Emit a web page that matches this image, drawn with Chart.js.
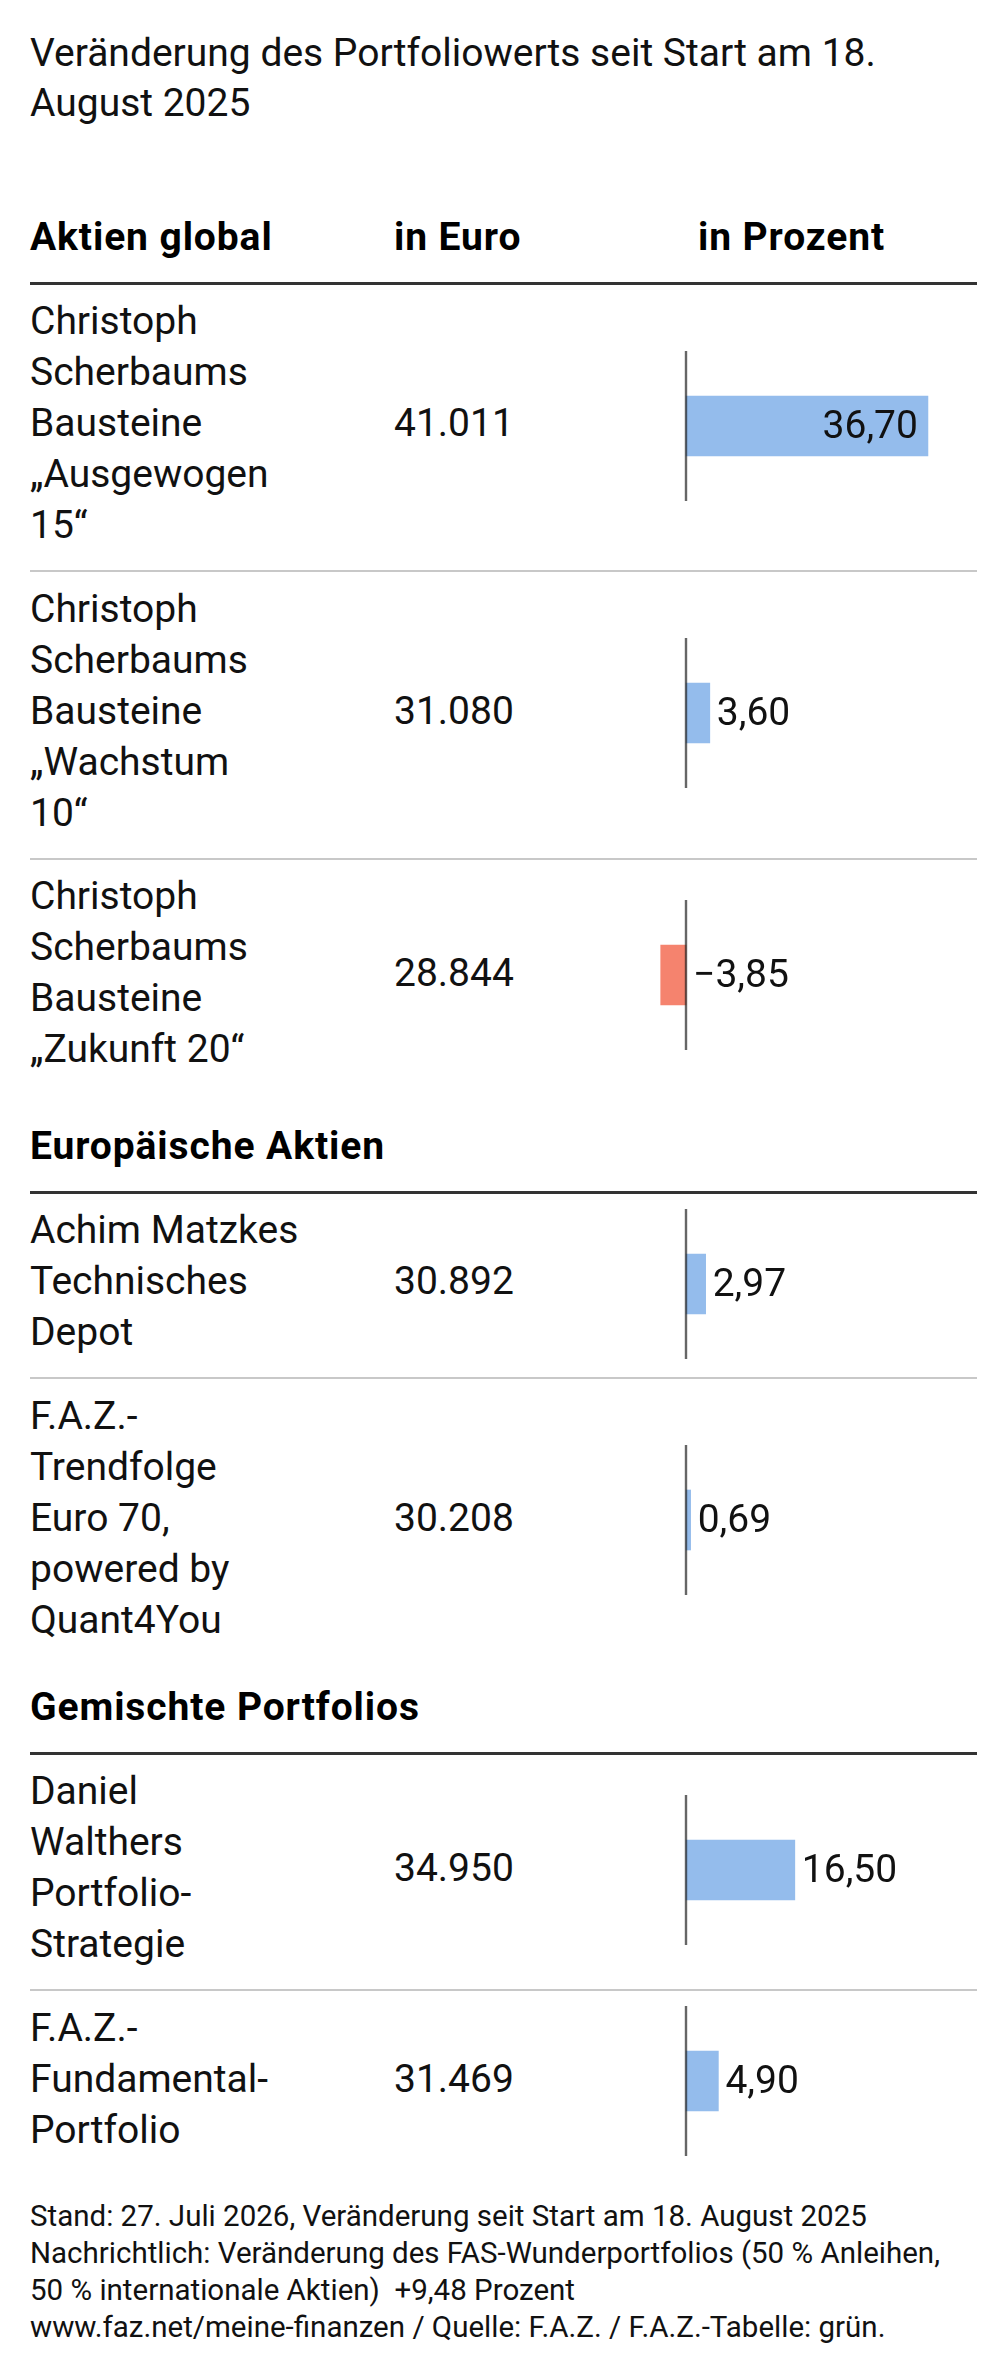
<!DOCTYPE html>
<html lang="de">
<head>
<meta charset="utf-8">
<script src="https://cdn.jsdelivr.net/npm/chart.js@4.4.1/dist/chart.umd.min.js"></script>
<style>
  html,body{margin:0;padding:0;background:#fff;}
  body{width:1005px;height:2379px;font-family:Roboto,"Noto Sans",sans-serif;color:#111;overflow:hidden;}
  #wrap{margin-left:30px;width:947px;}
  .title{font-size:39px;line-height:50px;padding-top:28.4px;white-space:nowrap;}
  .head{display:flex;font-weight:700;font-size:39px;line-height:51px;padding-bottom:19px;border-bottom:3px solid #333;color:#000;white-space:nowrap;letter-spacing:0.9px;}
  .row{display:flex;align-items:center;font-size:39px;line-height:51px;padding:11.5px 0 19px 0;border-bottom:2px solid #c8c8c8;}
  .row.last{border-bottom:none;}
  .lab{width:364px;flex:none;white-space:pre;}
  .val{width:242px;flex:none;}
  .pct{flex:none;padding-left:62px;}
  .cv{flex:none;width:344px;height:150px;position:relative;top:2px;}
  .foot{font-size:29.5px;line-height:37px;margin-top:22.6px;white-space:nowrap;}
</style>
</head>
<body>
<div id="wrap"></div>
<script>
// ---------- data ----------
const titleLines = ["Veränderung des Portfoliowerts seit Start am 18.", "August 2025"];
const sections = ["Aktien global", "Europäische Aktien", "Gemischte Portfolios"];
const columnHeaders = ["in Euro", "in Prozent"];
const rowSection = [0, 0, 0, 1, 1, 2, 2];
const portfolios = [
  "Christoph\nScherbaums\nBausteine\n„Ausgewogen\n15“",
  "Christoph\nScherbaums\nBausteine\n„Wachstum\n10“",
  "Christoph\nScherbaums\nBausteine\n„Zukunft 20“",
  "Achim Matzkes\nTechnisches\nDepot",
  "F.A.Z.-\nTrendfolge\nEuro 70,\npowered by\nQuant4You",
  "Daniel\nWalthers\nPortfolio-\nStrategie",
  "F.A.Z.-\nFundamental-\nPortfolio"
];
const valueEuro = [41011, 31080, 28844, 30892, 30208, 34950, 31469];
const changePct = [36.70, 3.60, -3.85, 2.97, 0.69, 16.50, 4.90];
const footLines = [
  "Stand: 27. Juli 2026, Veränderung seit Start am 18. August 2025",
  "Nachrichtlich: Veränderung des FAS-Wunderportfolios (50\u00a0% Anleihen,",
  "50\u00a0% internationale Aktien)\u00a0 +9,48 Prozent",
  "www.faz.net/meine-finanzen / Quelle: F.A.Z. / F.A.Z.-Tabelle: grün."
];
const xMin = -7.6, xMax = 44.6;

// ---------- helpers ----------
const BLUE = "#94bcec", RED = "#f5836e";
function fmtEuro(v){ return String(v).replace(/\B(?=(\d{3})+(?!\d))/g, "."); }
function fmtPct(v){ return (v < 0 ? "\u2212" : "") + Math.abs(v).toFixed(2).replace(".", ","); }

const zeroLine = {
  id: "zeroLine",
  afterDatasetsDraw(chart){
    const {ctx, chartArea, scales} = chart;
    const x = Math.round(scales.x.getPixelForValue(0));
    ctx.save();
    ctx.strokeStyle = "rgba(30,30,30,0.68)";
    ctx.lineWidth = 2.4;
    ctx.beginPath();
    ctx.moveTo(x, chartArea.top);
    ctx.lineTo(x, chartArea.bottom);
    ctx.stroke();
    ctx.restore();
  }
};
const valueLabel = {
  id: "valueLabel",
  afterDraw(chart){
    const {ctx, chartArea, scales} = chart;
    const meta = chart.getDatasetMeta(0);
    const v = chart.data.datasets[0].data[0];
    const el = meta.data[0];
    const txt = fmtPct(v);
    ctx.save();
    ctx.font = "39px Roboto, 'Noto Sans', sans-serif";
    ctx.fillStyle = "#111";
    ctx.textBaseline = "middle";
    const w = ctx.measureText(txt).width;
    const x0 = scales.x.getPixelForValue(0);
    const y = el.y + 2;
    if (v >= 0) {
      const end = el.x;
      if (end + 8 + w > chartArea.right) {
        ctx.textAlign = "right";
        ctx.fillText(txt, end - 10, y);
      } else {
        ctx.textAlign = "left";
        ctx.fillText(txt, Math.max(end, x0 + 2) + 7, y);
      }
    } else {
      ctx.textAlign = "left";
      ctx.fillText(txt, x0 + 7, y);
    }
    ctx.restore();
  }
};

// ---------- build ----------
const wrap = document.getElementById("wrap");
const t = document.createElement("div");
t.className = "title";
t.innerHTML = titleLines.join("<br>");
wrap.appendChild(t);

const headMargins = ["83.5px", "26.3px", "17.3px"];
let current = -1;
portfolios.forEach((name, i) => {
  if (rowSection[i] !== current) {
    current = rowSection[i];
    const h = document.createElement("div");
    h.className = "head";
    h.style.marginTop = headMargins[current];
    const l = document.createElement("div"); l.className = "lab"; l.textContent = sections[current];
    h.appendChild(l);
    if (current === 0) {
      const a = document.createElement("div"); a.className = "val"; a.textContent = columnHeaders[0];
      const b = document.createElement("div"); b.className = "pct"; b.textContent = columnHeaders[1];
      h.appendChild(a); h.appendChild(b);
    }
    wrap.appendChild(h);
  }
  const r = document.createElement("div");
  r.className = "row" + ((i + 1 >= portfolios.length || rowSection[i + 1] !== rowSection[i]) ? " last" : "");
  const l = document.createElement("div"); l.className = "lab"; l.textContent = name;
  const v = document.createElement("div"); v.className = "val"; v.textContent = fmtEuro(valueEuro[i]);
  const c = document.createElement("canvas"); c.className = "cv"; c.width = 344; c.height = 150;
  r.appendChild(l); r.appendChild(v); r.appendChild(c);
  wrap.appendChild(r);

  new Chart(c, {
    type: "bar",
    data: {
      labels: [""],
      datasets: [{
        data: [changePct[i]],
        backgroundColor: changePct[i] < 0 ? RED : BLUE,
        borderWidth: 0,
        barThickness: 60
      }]
    },
    options: {
      indexAxis: "y",
      responsive: false,
      animation: false,
      events: [],
      layout: { padding: 0 },
      plugins: { legend: { display: false }, tooltip: { enabled: false } },
      scales: {
        x: { type: "linear", min: xMin, max: xMax, display: false },
        y: { display: false }
      }
    },
    plugins: [zeroLine, valueLabel]
  });
});

const f = document.createElement("div");
f.className = "foot";
f.innerHTML = footLines.join("<br>");
wrap.appendChild(f);
</script>
</body>
</html>
